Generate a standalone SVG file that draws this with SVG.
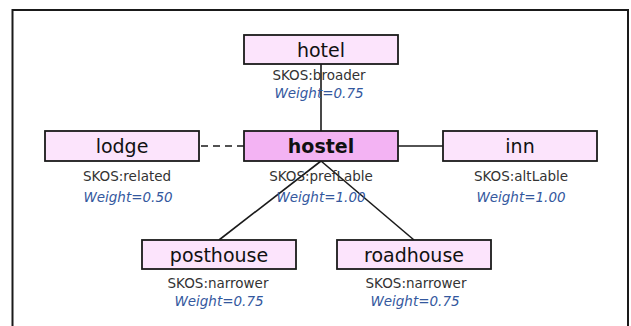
<svg xmlns="http://www.w3.org/2000/svg" width="631" height="326" viewBox="0 0 631 326">
<style>
.box{fill:#fce4fc;stroke:#1a1a1a;stroke-width:1.8}
.main{fill:#f3b3f3}
.lbl{font-family:"DejaVu Sans",Verdana,sans-serif;font-size:19px;fill:#111;text-anchor:middle}
.b{font-weight:bold}
.rel{font-family:"DejaVu Sans",Verdana,sans-serif;font-size:13.5px;fill:#333;text-anchor:middle}
.w{font-family:"DejaVu Sans",Verdana,sans-serif;font-size:13.5px;font-style:italic;fill:#34589e;text-anchor:middle}
.ln{stroke:#1a1a1a;stroke-width:1.6;fill:none}
</style>
<rect width="631" height="326" fill="#fff"/>
<path d="M12.5,330 V10 H628 V330" fill="none" stroke="#1a1a1a" stroke-width="2"/>
<g id="connectors">
<line class="ln" x1="321" y1="64" x2="321" y2="131"/>
<line class="ln" x1="199" y1="146" x2="244" y2="146" stroke-dasharray="7 5" stroke-dashoffset="-2"/>
<line class="ln" x1="398" y1="146" x2="443" y2="146"/>
<line class="ln" x1="321" y1="161" x2="219" y2="240"/>
<line class="ln" x1="321" y1="161" x2="414" y2="240"/>
</g>
<g id="hotel">
<rect class="box" x="244" y="35" width="154" height="29"/>
<text class="lbl" x="321" y="56.5">hotel</text>
<text class="rel" x="319" y="80">SKOS:broader</text>
<text class="w" x="319" y="98">Weight=0.75</text>
</g>
<g id="lodge">
<rect class="box" x="45" y="131" width="154" height="30"/>
<text class="lbl" x="122" y="152.5">lodge</text>
<text class="rel" x="127" y="181">SKOS:related</text>
<text class="w" x="128" y="202">Weight=0.50</text>
</g>
<g id="hostel">
<rect class="box main" x="244" y="131" width="154" height="30"/>
<text class="lbl b" x="321" y="152.5">hostel</text>
<text class="rel" x="321" y="181">SKOS:prefLable</text>
<text class="w" x="321" y="202">Weight=1.00</text>
</g>
<g id="inn">
<rect class="box" x="443" y="131" width="154" height="30"/>
<text class="lbl" x="520" y="152.5">inn</text>
<text class="rel" x="521" y="181">SKOS:altLable</text>
<text class="w" x="521" y="202">Weight=1.00</text>
</g>
<g id="posthouse">
<rect class="box" x="142" y="240" width="154" height="29"/>
<text class="lbl" x="219" y="261.5">posthouse</text>
<text class="rel" x="218" y="288">SKOS:narrower</text>
<text class="w" x="219" y="306">Weight=0.75</text>
</g>
<g id="roadhouse">
<rect class="box" x="337" y="240" width="154" height="29"/>
<text class="lbl" x="414" y="261.5">roadhouse</text>
<text class="rel" x="416" y="288">SKOS:narrower</text>
<text class="w" x="415" y="306">Weight=0.75</text>
</g>
</svg>
